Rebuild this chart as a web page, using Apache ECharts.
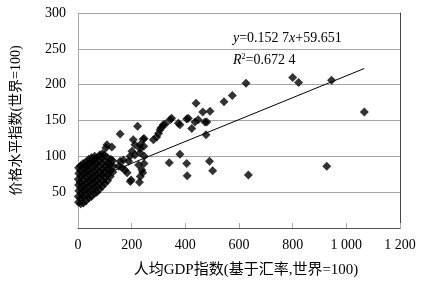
<!DOCTYPE html>
<html>
<head>
<meta charset="utf-8">
<script src="https://cdn.jsdelivr.net/npm/echarts@6/dist/echarts.min.js"></script>
<style>
html,body{margin:0;padding:0;background:#fff;}
#main{width:422px;height:292px;}
</style>
</head>
<body>
<div id="main"></div>
<script>
// 人均GDP指数 (x) 与 价格水平指数 (y), 按顺序一一对应
var gdpIdx = [
    2,1,3,2,1,3,2,
    10,9,11,10,8,11,9,10,
    20,19,21,20,18,22,20,19,
    30,31,29,30,32,28,31,30,
    40,41,39,42,40,38,41,40,
    50,51,49,52,50,48,51,50,
    60,61,59,62,60,58,61,62,
    70,71,69,72,70,68,71,
    80,81,79,82,80,78,81,
    90,91,89,92,90,88,91,
    100,101,99,102,100,98,104,
    110,111,109,112,110,108,
    120,121,119,122,126,
    130,132,129,
    157,152,164,175,183,195,198,229,232,238,241,226,246,189,169,157,194,212,231,247,201,231,212,231,245,206,243,246,222,
    281,293,300,306,310,318,325,343,349,374,380,405,411,424,436,448,473,480,477,440,465,492,544,575,626,800,822,945,1067,
    340,380,405,407,490,502,635,927
];
var priceIdx = [
    36,44,52,60,68,76,84,
    34,41,48,56,64,72,80,87,
    35,44,52,60,68,76,84,90,
    38,46,54,62,70,78,86,92,
    42,50,58,66,74,82,90,96,
    44,52,60,68,76,84,92,98,
    48,56,64,72,80,88,96,100,
    50,58,66,74,82,90,98,
    54,62,70,78,86,94,102,
    58,66,74,82,90,98,104,
    62,70,78,86,94,102,112,
    66,74,82,90,98,116,
    72,80,88,96,113,
    78,86,94,
    131,86,84,81,77,65,67,64,72,81,77,88,90,93,95,93,100,102,105,100,107,111,116,116,114,123,124,125,142,
    123,127,132,137,140,144,145,151,153,146,144,152,153,139,148,151,148,148,130,174,162,163,176,185,202,210,203,206,162,
    91,103,90,73,93,80,74,86
];
var xTicks = [0, 200, 400, 600, 800, 1000, 1200];
var yTicks = [50, 100, 150, 200, 250, 300];
// 趋势线 y=0.1527x+59.651
var slope = 0.1527, intercept = 59.651;
var fitFrom = 0, fitTo = 1067;

var points = [];
for (var i = 0; i < gdpIdx.length; i++) {
    points.push([gdpIdx[i], priceIdx[i]]);
}
var fitLine = [[fitFrom, slope * fitFrom + intercept], [fitTo, slope * fitTo + intercept]];

var serif = '"Liberation Serif","Noto Sans CJK SC",serif';

var chart = echarts.init(document.getElementById('main'));
var option = {
    backgroundColor: '#ffffff',
    animation: false,
    grid: {left: 78, right: 22, top: 13, bottom: 64, outerBoundsMode: 'none'},
    xAxis: {
        type: 'value',
        min: 0, max: 1200, interval: 200,
        name: '人均GDP指数(基于汇率,世界=100)',
        nameLocation: 'middle',
        nameGap: 35,
        nameTextStyle: {fontFamily: serif, fontSize: 15, color: '#000', padding: [0, 0, 0, 14]},
        axisLine: {lineStyle: {color: '#555', width: 1}},
        axisTick: {show: true, inside: true, length: 5, lineStyle: {color: '#aaa'}},
        splitLine: {show: false},
        axisLabel: {
            fontFamily: serif, fontSize: 14, color: '#000', margin: 10,
            formatter: function (v) {
                if (xTicks.indexOf(v) < 0) return '';
                return v >= 1000 ? Math.floor(v / 1000) + ' ' + String(v % 1000 + 1000).slice(1) : String(v);
            }
        }
    },
    yAxis: [{
        type: 'value',
        min: 0, max: 300, interval: 50,
        name: '价格水平指数(世界=100)',
        nameLocation: 'middle',
        nameGap: 55,
        nameRotate: 90,
        nameTextStyle: {fontFamily: serif, fontSize: 14, color: '#000'},
        axisLine: {show: true, lineStyle: {color: '#aaa', width: 1}},
        axisTick: {show: false},
        splitLine: {show: true, lineStyle: {color: '#a6a6a6', width: 1}},
        axisLabel: {
            fontFamily: serif, fontSize: 14, color: '#000', margin: 12,
            formatter: function (v) { return yTicks.indexOf(v) < 0 ? '' : String(v); }
        }
    }, {
        type: 'value',
        position: 'right',
        min: 0, max: 300, interval: 50,
        axisLine: {show: true, lineStyle: {color: '#444', width: 1}},
        axisTick: {show: false},
        axisLabel: {show: false},
        splitLine: {show: false}
    }],
    graphic: [{
        type: 'text',
        left: 233, top: 31,
        style: {
            text: '{i|y}=0.152 7{i|x}+59.651',
            font: '14px ' + serif,
            fill: '#000',
            rich: {i: {fontStyle: 'italic', fontFamily: serif, fontSize: 14}}
        }
    }, {
        type: 'text',
        left: 233, top: 53,
        style: {
            text: '{i|R}{s|2}=0.672 4',
            font: '14px ' + serif,
            fill: '#000',
            rich: {
                i: {fontStyle: 'italic', fontFamily: serif, fontSize: 14},
                s: {fontFamily: serif, fontSize: 8, verticalAlign: 'top', padding: [0, 0, 6, 0]}
            }
        }
    }],
    series: [{
        name: '国家',
        type: 'scatter',
        symbol: 'diamond',
        symbolSize: 9,
        itemStyle: {color: '#000'},
        data: points,
        z: 2
    }, {
        name: '趋势线',
        type: 'line',
        showSymbol: false,
        symbol: 'none',
        lineStyle: {color: '#000', width: 1},
        data: fitLine,
        z: 3
    }]
};
chart.setOption(option);
</script>
</body>
</html>
